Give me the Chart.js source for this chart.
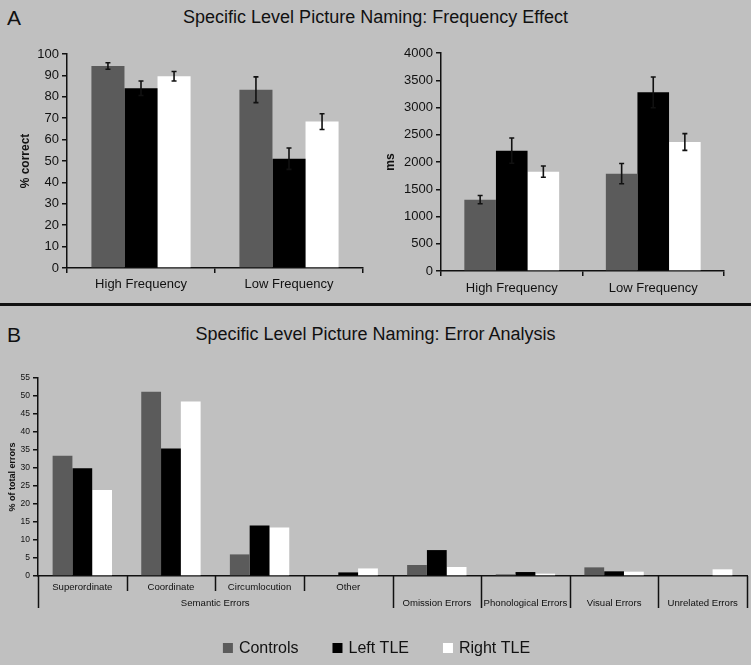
<!DOCTYPE html>
<html>
<head>
<meta charset="utf-8">
<script src="https://cdn.jsdelivr.net/npm/chart.js@4.4.1/dist/chart.umd.min.js"></script>
<style>
  html, body { margin: 0; padding: 0; background: #c0c0c0; }
  body { width: 751px; height: 665px; position: relative; overflow: hidden; font-family: "Liberation Sans", Arial, sans-serif; color: #111; }
  .box { position: absolute; }
  .panel { position: absolute; font-size: 21px; }
  .title { position: absolute; left: 0; width: 751px; text-align: center; font-size: 18px; }
  .sep { position: absolute; left: 0; top: 303px; width: 751px; height: 3px; background: #111; }
</style>
</head>
<body>
<div class="panel" style="left:7px;top:6px">A</div>
<div class="title" style="top:7px">Specific Level Picture Naming: Frequency Effect</div>
<div class="box" style="left:0;top:30px;width:375px;height:270px"><canvas id="accChart"></canvas></div>
<div class="box" style="left:375px;top:30px;width:376px;height:270px"><canvas id="rtChart"></canvas></div>
<div class="sep"></div>
<div class="panel" style="left:7px;top:323px">B</div>
<div class="title" style="top:324px">Specific Level Picture Naming: Error Analysis</div>
<div class="box" style="left:0;top:360px;width:751px;height:305px"><canvas id="errChart"></canvas></div>

<script>
// groups
const groupNames = ['Controls', 'Left TLE', 'Right TLE'];
const groupColors = ['#5b5b5b', '#000000', '#ffffff'];

// panel A - accuracy
const freqCats = ['High Frequency', 'Low Frequency'];
const accControls = [94.4, 83.3];
const accLeft = [84.0, 51.1];
const accRight = [89.6, 68.4];
const accControlsErr = [1.5, 6.0];
const accLeftErr = [3.4, 5.0];
const accRightErr = [2.2, 3.7];
const accTicks = [0, 10, 20, 30, 40, 50, 60, 70, 80, 90, 100];

// panel A - reaction time
const rtControls = [1309, 1786];
const rtLeft = [2208, 3278];
const rtRight = [1823, 2367];
const rtControlsErr = [76, 186];
const rtLeftErr = [232, 282];
const rtRightErr = [104, 153];
const rtTicks = [0, 500, 1000, 1500, 2000, 2500, 3000, 3500, 4000];

// panel B - errors
const errCats = ['Superordinate', 'Coordinate', 'Circumlocution', 'Other',
  'Omission Errors', 'Phonological Errors', 'Visual Errors', 'Unrelated Errors'];
const errGroups = ['Semantic Errors', 'Semantic Errors', 'Semantic Errors', 'Semantic Errors',
  null, null, null, null];
const errControls = [33.4, 51.2, 6.0, 0, 3.05, 0.45, 2.4, 0];
const errLeft = [29.9, 35.4, 14.0, 1.0, 7.2, 1.1, 1.3, 0];
const errRight = [23.9, 48.5, 13.5, 2.1, 2.5, 0.65, 1.2, 1.85];
const errTicks = [0, 5, 10, 15, 20, 25, 30, 35, 40, 45, 50, 55];

const FONT = '"Liberation Sans", Arial, sans-serif';
const INK = '#111';

const errorBars = {
  id: 'errorBars',
  afterDatasetsDraw(chart) {
    const ctx = chart.ctx;
    const y = chart.scales.y;
    chart.data.datasets.forEach((ds, di) => {
      if (!ds.errors) return;
      chart.getDatasetMeta(di).data.forEach((bar, i) => {
        const top = y.getPixelForValue(ds.data[i] + ds.errors[i]);
        const bot = y.getPixelForValue(ds.data[i] - ds.errors[i]);
        ctx.save();
        ctx.strokeStyle = INK;
        ctx.lineWidth = 1.6;
        ctx.beginPath();
        ctx.moveTo(bar.x, top); ctx.lineTo(bar.x, bot);
        ctx.moveTo(bar.x - 2.5, top); ctx.lineTo(bar.x + 2.5, top);
        ctx.moveTo(bar.x - 2.5, bot); ctx.lineTo(bar.x + 2.5, bot);
        ctx.stroke();
        ctx.restore();
      });
    });
  }
};

function barSets(values, errors) {
  return groupNames.map((name, k) => ({
    label: name,
    data: values[k],
    errors: errors ? errors[k] : undefined,
    backgroundColor: groupColors[k],
    borderWidth: 0,
    categoryPercentage: 0.67,
    barPercentage: 1
  }));
}

function freqOptions(yMax, yStep, yTitle, titlePad, yWidth, xHeight, xPad, pad) {
  return {
    responsive: true,
    maintainAspectRatio: false,
    animation: false,
    layout: { padding: pad },
    plugins: { legend: { display: false }, tooltip: { enabled: false } },
    scales: {
      x: {
        afterFit: s => { s.height = xHeight; },
        ticks: { color: INK, font: { family: FONT, size: 13 }, padding: xPad, maxRotation: 0 },
        grid: { display: true, drawOnChartArea: false, drawTicks: true, tickLength: 5, color: INK, lineWidth: 1.5 },
        border: { color: INK, width: 1.5 }
      },
      y: {
        min: 0, max: yMax,
        afterFit: s => { s.width = yWidth; },
        ticks: { stepSize: yStep, color: INK, font: { family: FONT, size: 13 }, padding: 3, callback: v => String(v) },
        grid: { display: true, drawOnChartArea: false, drawTicks: true, tickLength: 5, color: INK, lineWidth: 1.5 },
        border: { color: INK, width: 1.5 },
        title: { display: true, text: yTitle, color: INK, font: { family: FONT, size: 12, weight: 'bold' }, padding: { top: titlePad, bottom: 0 } }
      }
    }
  };
}

new Chart(document.getElementById('accChart'), {
  type: 'bar',
  data: {
    labels: freqCats,
    datasets: barSets([accControls, accLeft, accRight], [accControlsErr, accLeftErr, accRightErr])
  },
  options: freqOptions(accTicks[accTicks.length - 1], accTicks[1], '% correct', 18, 67, 32, 4,
    { top: 24, right: 12, left: 0, bottom: 0 }),
  plugins: [errorBars]
});

new Chart(document.getElementById('rtChart'), {
  type: 'bar',
  data: {
    labels: freqCats,
    datasets: barSets([rtControls, rtLeft, rtRight], [rtControlsErr, rtLeftErr, rtRightErr])
  },
  options: freqOptions(rtTicks[rtTicks.length - 1], rtTicks[1], 'ms', 8, 66, 29, 5,
    { top: 23, right: 27, left: 0, bottom: 0 }),
  plugins: [errorBars]
});

// two-level category axis for the error chart
const groupedAxis = {
  id: 'groupedAxis',
  afterDraw(chart) {
    const ctx = chart.ctx;
    const x = chart.scales.x;
    const y0 = x.top;
    const n = errCats.length;
    const centers = errCats.map((c, i) => x.getPixelForValue(i));
    const edge = i => i === 0 ? x.left : i === n ? x.right : (centers[i - 1] + centers[i]) / 2;
    ctx.save();
    ctx.strokeStyle = INK;
    ctx.lineWidth = 1.5;
    for (let i = 0; i <= n; i++) {
      const inside = i > 0 && i < n && errGroups[i - 1] && errGroups[i - 1] === errGroups[i];
      const px = Math.round(edge(i)) + 0.5;
      ctx.beginPath();
      ctx.moveTo(px, y0);
      ctx.lineTo(px, y0 + (inside ? 15 : 32));
      ctx.stroke();
    }
    ctx.fillStyle = INK;
    ctx.font = '9.6px ' + FONT;
    ctx.textAlign = 'center';
    ctx.textBaseline = 'middle';
    errCats.forEach((c, i) => {
      ctx.fillText(c, centers[i], y0 + (errGroups[i] ? 11 : 27));
    });
    const seen = {};
    errGroups.forEach((g, i) => {
      if (!g || seen[g]) return;
      seen[g] = true;
      const last = errGroups.lastIndexOf(g);
      ctx.fillText(g, (edge(i) + edge(last + 1)) / 2, y0 + 27);
    });
    ctx.restore();
  }
};

const legendRow = {
  id: 'legendRow',
  afterDraw(chart) {
    const ctx = chart.ctx;
    ctx.save();
    ctx.font = '16px ' + FONT;
    const items = chart.data.datasets.map(d => ({
      text: d.label, color: d.backgroundColor, w: 10 + 6 + ctx.measureText(d.label).width
    }));
    const gap = 34;
    const total = items.reduce((s, it) => s + it.w, 0) + gap * (items.length - 1);
    let cx = chart.width / 2 - total / 2 + 1;
    const cy = chart.height - 17;
    ctx.textBaseline = 'middle';
    items.forEach(it => {
      ctx.fillStyle = it.color;
      ctx.fillRect(cx, cy - 5, 10, 10);
      ctx.fillStyle = INK;
      ctx.fillText(it.text, cx + 16, cy + 1);
      cx += it.w + gap;
    });
    ctx.restore();
  }
};

new Chart(document.getElementById('errChart'), {
  type: 'bar',
  data: {
    labels: errCats,
    datasets: barSets([errControls, errLeft, errRight])
  },
  options: {
    responsive: true,
    maintainAspectRatio: false,
    animation: false,
    layout: { padding: { top: 18, right: 4, left: 0, bottom: 50 } },
    plugins: { legend: { display: false }, tooltip: { enabled: false } },
    scales: {
      x: {
        afterFit: s => { s.height = 39; },
        ticks: { display: false },
        grid: { display: false },
        border: { display: true, color: INK, width: 1.5 }
      },
      y: {
        min: 0, max: errTicks[errTicks.length - 1],
        afterFit: s => { s.width = 38; },
        ticks: { stepSize: errTicks[1], color: INK, font: { family: FONT, size: 8.5 }, padding: 3 },
        grid: { display: true, drawOnChartArea: false, drawTicks: true, tickLength: 5, color: INK, lineWidth: 1.5 },
        border: { color: INK, width: 1.5 },
        title: { display: true, text: '% of total errors', color: INK, font: { family: FONT, size: 9, weight: 'bold' }, padding: { top: 7, bottom: 0 } }
      }
    }
  },
  plugins: [groupedAxis, legendRow]
});
</script>
</body>
</html>
